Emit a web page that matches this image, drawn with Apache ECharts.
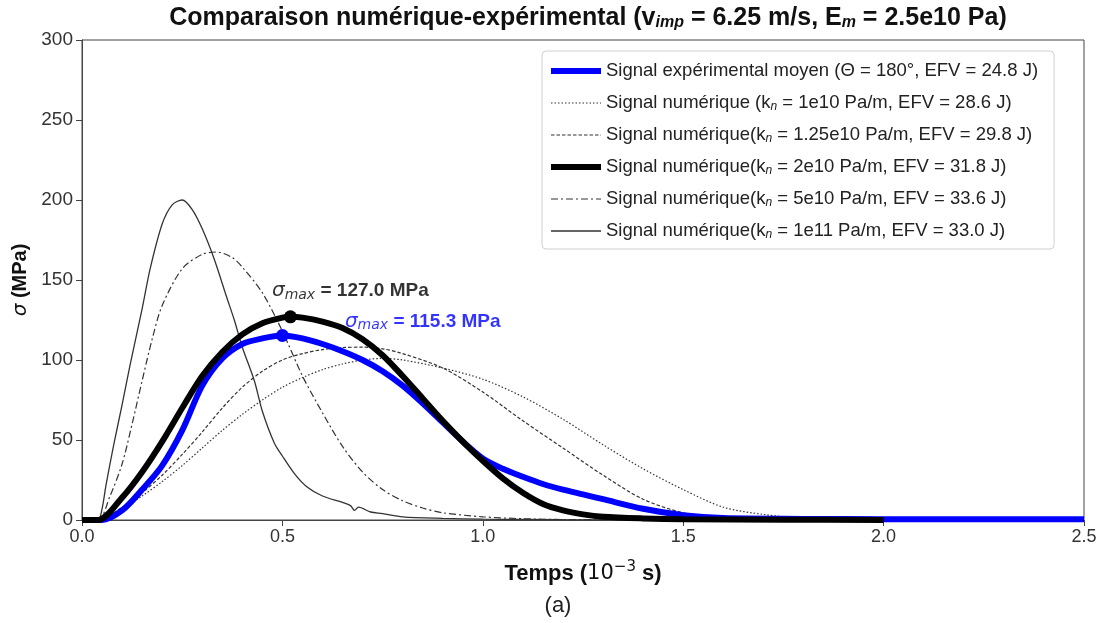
<!DOCTYPE html>
<html>
<head>
<meta charset="utf-8">
<script src="https://cdn.jsdelivr.net/npm/echarts@6/dist/echarts.min.js"></script>
<style>
  html, body { margin: 0; padding: 0; background: #fff; }
  #chart { width: 1101px; height: 623px; }
</style>
</head>
<body>
<div id="chart"></div>
<script>
// values (time in 1e-3 s, stress in MPa)
const xTicks = [0, 0.5, 1.0, 1.5, 2.0, 2.5];
const yTicks = [0, 50, 100, 150, 200, 250, 300];

const tExp = [0, 0.05, 0.1, 0.15, 0.2, 0.25, 0.3, 0.35, 0.4, 0.45, 0.5, 0.55, 0.6, 0.65, 0.7, 0.75, 0.8, 0.85, 0.9, 0.95, 1.0, 1.05, 1.1, 1.15, 1.2, 1.25, 1.3, 1.4, 1.5, 1.6, 1.8, 2.0, 2.5];
const vExp = [0, 0, 6, 19, 34, 56, 84, 101, 110, 113.5, 115.3, 113.5, 110, 105.5, 100, 93, 84, 73, 61, 49, 38.5, 32, 27, 22.5, 19, 16, 13, 7, 3, 1.2, 0.7, 0.5, 0.5];

const tK1e10 = [0, 0.04, 0.1, 0.15, 0.2, 0.25, 0.3, 0.35, 0.4, 0.45, 0.5, 0.55, 0.6, 0.65, 0.7, 0.75, 0.8, 0.9, 1.0, 1.1, 1.2, 1.3, 1.4, 1.5, 1.6, 1.7, 1.8, 1.9, 2.0];
const vK1e10 = [0, 0, 7, 15, 24, 34, 45, 56, 66, 75, 83, 89, 94, 97.5, 100, 101, 100, 95, 88, 77, 63, 47, 32, 19, 8, 3.5, 1, 0.3, 0];

const tK125e10 = [0, 0.04, 0.1, 0.15, 0.2, 0.25, 0.3, 0.35, 0.4, 0.45, 0.5, 0.55, 0.6, 0.65, 0.7, 0.75, 0.8, 0.9, 1.0, 1.1, 1.2, 1.3, 1.4, 1.5, 1.6, 1.7, 2.0];
const vK125e10 = [0, 0, 8, 17, 28, 41, 55, 70, 83, 93, 100, 104, 106.5, 107.8, 108, 107, 104, 95, 80, 62, 45, 28, 13, 4.5, 1, 0.3, 0];

const tK2e10 = [0, 0.04, 0.1, 0.15, 0.2, 0.25, 0.3, 0.35, 0.4, 0.45, 0.5, 0.52, 0.55, 0.6, 0.65, 0.7, 0.75, 0.8, 0.85, 0.9, 0.95, 1.0, 1.05, 1.1, 1.15, 1.2, 1.25, 1.3, 1.4, 1.5, 1.75, 2.0];
const vK2e10 = [0, 0, 14, 30, 49, 70, 90, 105, 116, 123, 126.5, 127, 126.5, 124, 120, 113, 103, 90, 76, 62, 49, 37, 26, 17, 10, 6, 3.5, 2, 1, 0.5, 0.2, 0];

const tK5e10 = [0, 0.04, 0.07, 0.1, 0.125, 0.15, 0.175, 0.2, 0.25, 0.3, 0.335, 0.375, 0.4, 0.45, 0.5, 0.55, 0.6, 0.65, 0.7, 0.75, 0.8, 0.85, 0.9, 1.0, 1.1, 1.2, 1.5, 2.0];
const vK5e10 = [0, 0, 15, 35, 60, 87, 113, 134, 157, 166, 167.5, 164, 158, 142, 118, 90, 67, 46, 30, 19, 12, 7.5, 4.5, 2, 0.8, 0.3, 0, 0];

const tK1e11 = [0, 0.04, 0.05, 0.06, 0.08, 0.1, 0.12, 0.15, 0.17, 0.2, 0.225, 0.25, 0.275, 0.3, 0.33, 0.36, 0.38, 0.4, 0.43, 0.45, 0.48, 0.5, 0.53, 0.56, 0.6, 0.65, 0.67, 0.68, 0.69, 0.72, 0.75, 0.8, 0.9, 1.0, 1.2, 2.0];
const vK1e11 = [0, 0, 7, 22, 48, 72, 97, 132, 157, 185, 197, 200, 194, 182, 163, 140, 125, 108, 87, 68, 48, 40, 29, 21, 15, 11, 9, 6, 8, 5, 4, 2, 1, 0.5, 0.2, 0];

const peakExp = [0.5, 115.3];
const peakK2e10 = [0.52, 127.0];
const labelPosExp = [0.656, 124];
const labelPosK2e10 = [0.474, 143];

const names = [
  'Signal expérimental moyen (Θ = 180°, EFV = 24.8 J)',
  'Signal numérique (kn = 1e10 Pa/m, EFV = 28.6 J)',
  'Signal numérique(kn = 1.25e10 Pa/m, EFV = 29.8 J)',
  'Signal numérique(kn = 2e10 Pa/m, EFV = 31.8 J)',
  'Signal numérique(kn = 5e10 Pa/m, EFV = 33.6 J)',
  'Signal numérique(kn = 1e11 Pa/m, EFV = 33.0 J)'
];
const richNames = [
  'Signal expérimental moyen (Θ = 180°, EFV = 24.8 J)',
  'Signal numérique (k{sub|n} = 1e10 Pa/m, EFV = 28.6 J)',
  'Signal numérique(k{sub|n} = 1.25e10 Pa/m, EFV = 29.8 J)',
  'Signal numérique(k{sub|n} = 2e10 Pa/m, EFV = 31.8 J)',
  'Signal numérique(k{sub|n} = 5e10 Pa/m, EFV = 33.6 J)',
  'Signal numérique(k{sub|n} = 1e11 Pa/m, EFV = 33.0 J)'
];

function pairs(t, v) {
  return t.map((x, i) => [x, v[i]]);
}

const FONT = 'Liberation Sans, Arial, sans-serif';
const thin = '#333';
const BLUE = '#0000ff';
const widths = [6, 1.2, 1.2, 6, 1.2, 1.3];

const chart = echarts.init(document.getElementById('chart'));

const option = {
  animation: false,
  backgroundColor: '#fff',
  textStyle: { fontFamily: FONT },
  title: [
    {
      text: '{b|Comparaison numérique-expérimental (v}{s|imp}{b| = 6.25 m/s, E}{s|m}{b| = 2.5e10 Pa)}',
      left: 583,
      textAlign: 'center',
      top: -2,
      textStyle: {
        rich: {
          b: { fontFamily: FONT, fontSize: 25, fontWeight: 'bold', color: '#111', lineHeight: 30 },
          s: { fontFamily: FONT, fontSize: 16, fontStyle: 'italic', color: '#111', lineHeight: 24, padding: [10, 0, 0, 0] }
        }
      }
    },
    {
      text: '(a)',
      left: 553,
      textAlign: 'center',
      top: 590,
      textStyle: { fontFamily: FONT, fontSize: 22, fontWeight: 'normal', color: '#222' }
    }
  ],
  grid: {
    left: 82, right: 17, top: 40, bottom: 103,
    show: true, borderColor: '#444', borderWidth: 1
  },
  legend: {
    data: names.map((n, i) => ({ name: n, lineStyle: { width: widths[i] } })),
    orient: 'vertical',
    left: 542,
    top: 51,
    padding: [10, 16, 8, 6],
    itemWidth: 50,
    itemHeight: 14,
    itemGap: 12,
    backgroundColor: '#fff',
    borderColor: '#d0d0d0',
    borderWidth: 1,
    borderRadius: 4,
    selectedMode: false,
    itemStyle: { opacity: 0 },
    formatter: (name) => richNames[names.indexOf(name)],
    textStyle: {
      fontFamily: FONT, fontSize: 18.5, color: '#222', lineHeight: 20,
      rich: {
        sub: { fontFamily: FONT, fontSize: 12, fontStyle: 'italic', color: '#222', padding: [8, 0, 0, 0] }
      }
    }
  },
  xAxis: {
    type: 'value',
    min: xTicks[0],
    max: xTicks[xTicks.length - 1],
    interval: 0.5,
    splitLine: { show: false },
    axisLine: { show: true, onZero: false, lineStyle: { color: '#444' } },
    axisTick: { show: true, length: 6, lineStyle: { color: '#444' } },
    axisLabel: {
      fontFamily: FONT, fontSize: 18, color: '#333', margin: 8,
      formatter: (v) => v.toFixed(1)
    },
    name: '{b|Temps (}{n|10}{sup|−3}{b| s)}',
    nameLocation: 'middle',
    nameGap: 40,
    nameTextStyle: {
      rich: {
        b: { fontFamily: FONT, fontSize: 22, fontWeight: 'bold', color: '#111' },
        n: { fontFamily: 'DejaVu Sans', fontSize: 21, color: '#111' },
        sup: { fontFamily: 'DejaVu Sans', fontSize: 15, color: '#111', padding: [0, 0, 12, 0] }
      }
    }
  },
  yAxis: {
    type: 'value',
    min: yTicks[0],
    max: yTicks[yTicks.length - 1],
    interval: 50,
    splitLine: { show: false },
    axisLine: { show: true, onZero: false, lineStyle: { color: '#444' } },
    axisTick: { show: true, length: 6, lineStyle: { color: '#444' } },
    axisLabel: { fontFamily: FONT, fontSize: 19, color: '#333', margin: 9 },
    name: '{i|σ}{b| (MPa)}',
    nameLocation: 'middle',
    nameRotate: 90,
    nameGap: 44,
    nameTextStyle: {
      rich: {
        i: { fontFamily: 'DejaVu Sans', fontSize: 20, fontStyle: 'italic', color: '#111' },
        b: { fontFamily: FONT, fontSize: 20, fontWeight: 'bold', color: '#111' }
      }
    }
  },
  series: [
    {
      name: names[0], type: 'line', data: pairs(tExp, vExp),
      showSymbol: false, symbol: 'none', smooth: 0.3, z: 4,
      lineStyle: { color: BLUE, width: widths[0] }, itemStyle: { color: BLUE }
    },
    {
      name: names[1], type: 'line', data: pairs(tK1e10, vK1e10),
      showSymbol: false, symbol: 'none', smooth: 0.3, z: 3,
      lineStyle: { color: thin, width: widths[1], type: [1.5, 2] }, itemStyle: { color: thin }
    },
    {
      name: names[2], type: 'line', data: pairs(tK125e10, vK125e10),
      showSymbol: false, symbol: 'none', smooth: 0.3, z: 3,
      lineStyle: { color: thin, width: widths[2], type: [3.5, 2] }, itemStyle: { color: thin }
    },
    {
      name: names[3], type: 'line', data: pairs(tK2e10, vK2e10),
      showSymbol: false, symbol: 'none', smooth: 0.3, z: 5,
      lineStyle: { color: '#000', width: widths[3] }, itemStyle: { color: '#000' }
    },
    {
      name: names[4], type: 'line', data: pairs(tK5e10, vK5e10),
      showSymbol: false, symbol: 'none', smooth: 0.3, z: 3,
      lineStyle: { color: thin, width: widths[4], type: [7, 3, 2, 3] }, itemStyle: { color: thin }
    },
    {
      name: names[5], type: 'line', data: pairs(tK1e11, vK1e11),
      showSymbol: false, symbol: 'none', smooth: 0.3, z: 3,
      lineStyle: { color: thin, width: widths[5] }, itemStyle: { color: thin }
    },
    {
      name: 'peakK2e10', type: 'scatter', data: [peakK2e10], symbolSize: 13, z: 6,
      itemStyle: { color: '#000', opacity: 1 }
    },
    {
      name: 'peakExp', type: 'scatter', data: [peakExp], symbolSize: 13, z: 6,
      itemStyle: { color: BLUE, opacity: 1 }
    },
    {
      name: 'labelK2e10', type: 'scatter', data: [labelPosK2e10], symbolSize: 0, z: 7,
      label: {
        show: true, position: 'right', distance: 0,
        formatter: '{i|σ}{s|max}{b| = 127.0 MPa}',
        rich: {
          i: { fontFamily: 'DejaVu Sans', fontSize: 20, fontStyle: 'italic', color: '#000' },
          s: { fontFamily: 'DejaVu Sans', fontSize: 14, fontStyle: 'italic', color: '#000', padding: [8, 0, 0, 0] },
          b: { fontFamily: FONT, fontSize: 19, fontWeight: 'bold', color: '#000' }
        }
      }
    },
    {
      name: 'labelExp', type: 'scatter', data: [labelPosExp], symbolSize: 0, z: 7,
      label: {
        show: true, position: 'right', distance: 0,
        formatter: '{i|σ}{s|max}{b| = 115.3 MPa}',
        rich: {
          i: { fontFamily: 'DejaVu Sans', fontSize: 20, fontStyle: 'italic', color: BLUE },
          s: { fontFamily: 'DejaVu Sans', fontSize: 14, fontStyle: 'italic', color: BLUE, padding: [8, 0, 0, 0] },
          b: { fontFamily: FONT, fontSize: 19, fontWeight: 'bold', color: BLUE }
        }
      }
    }
  ]
};

chart.setOption(option);
</script>
</body>
</html>
